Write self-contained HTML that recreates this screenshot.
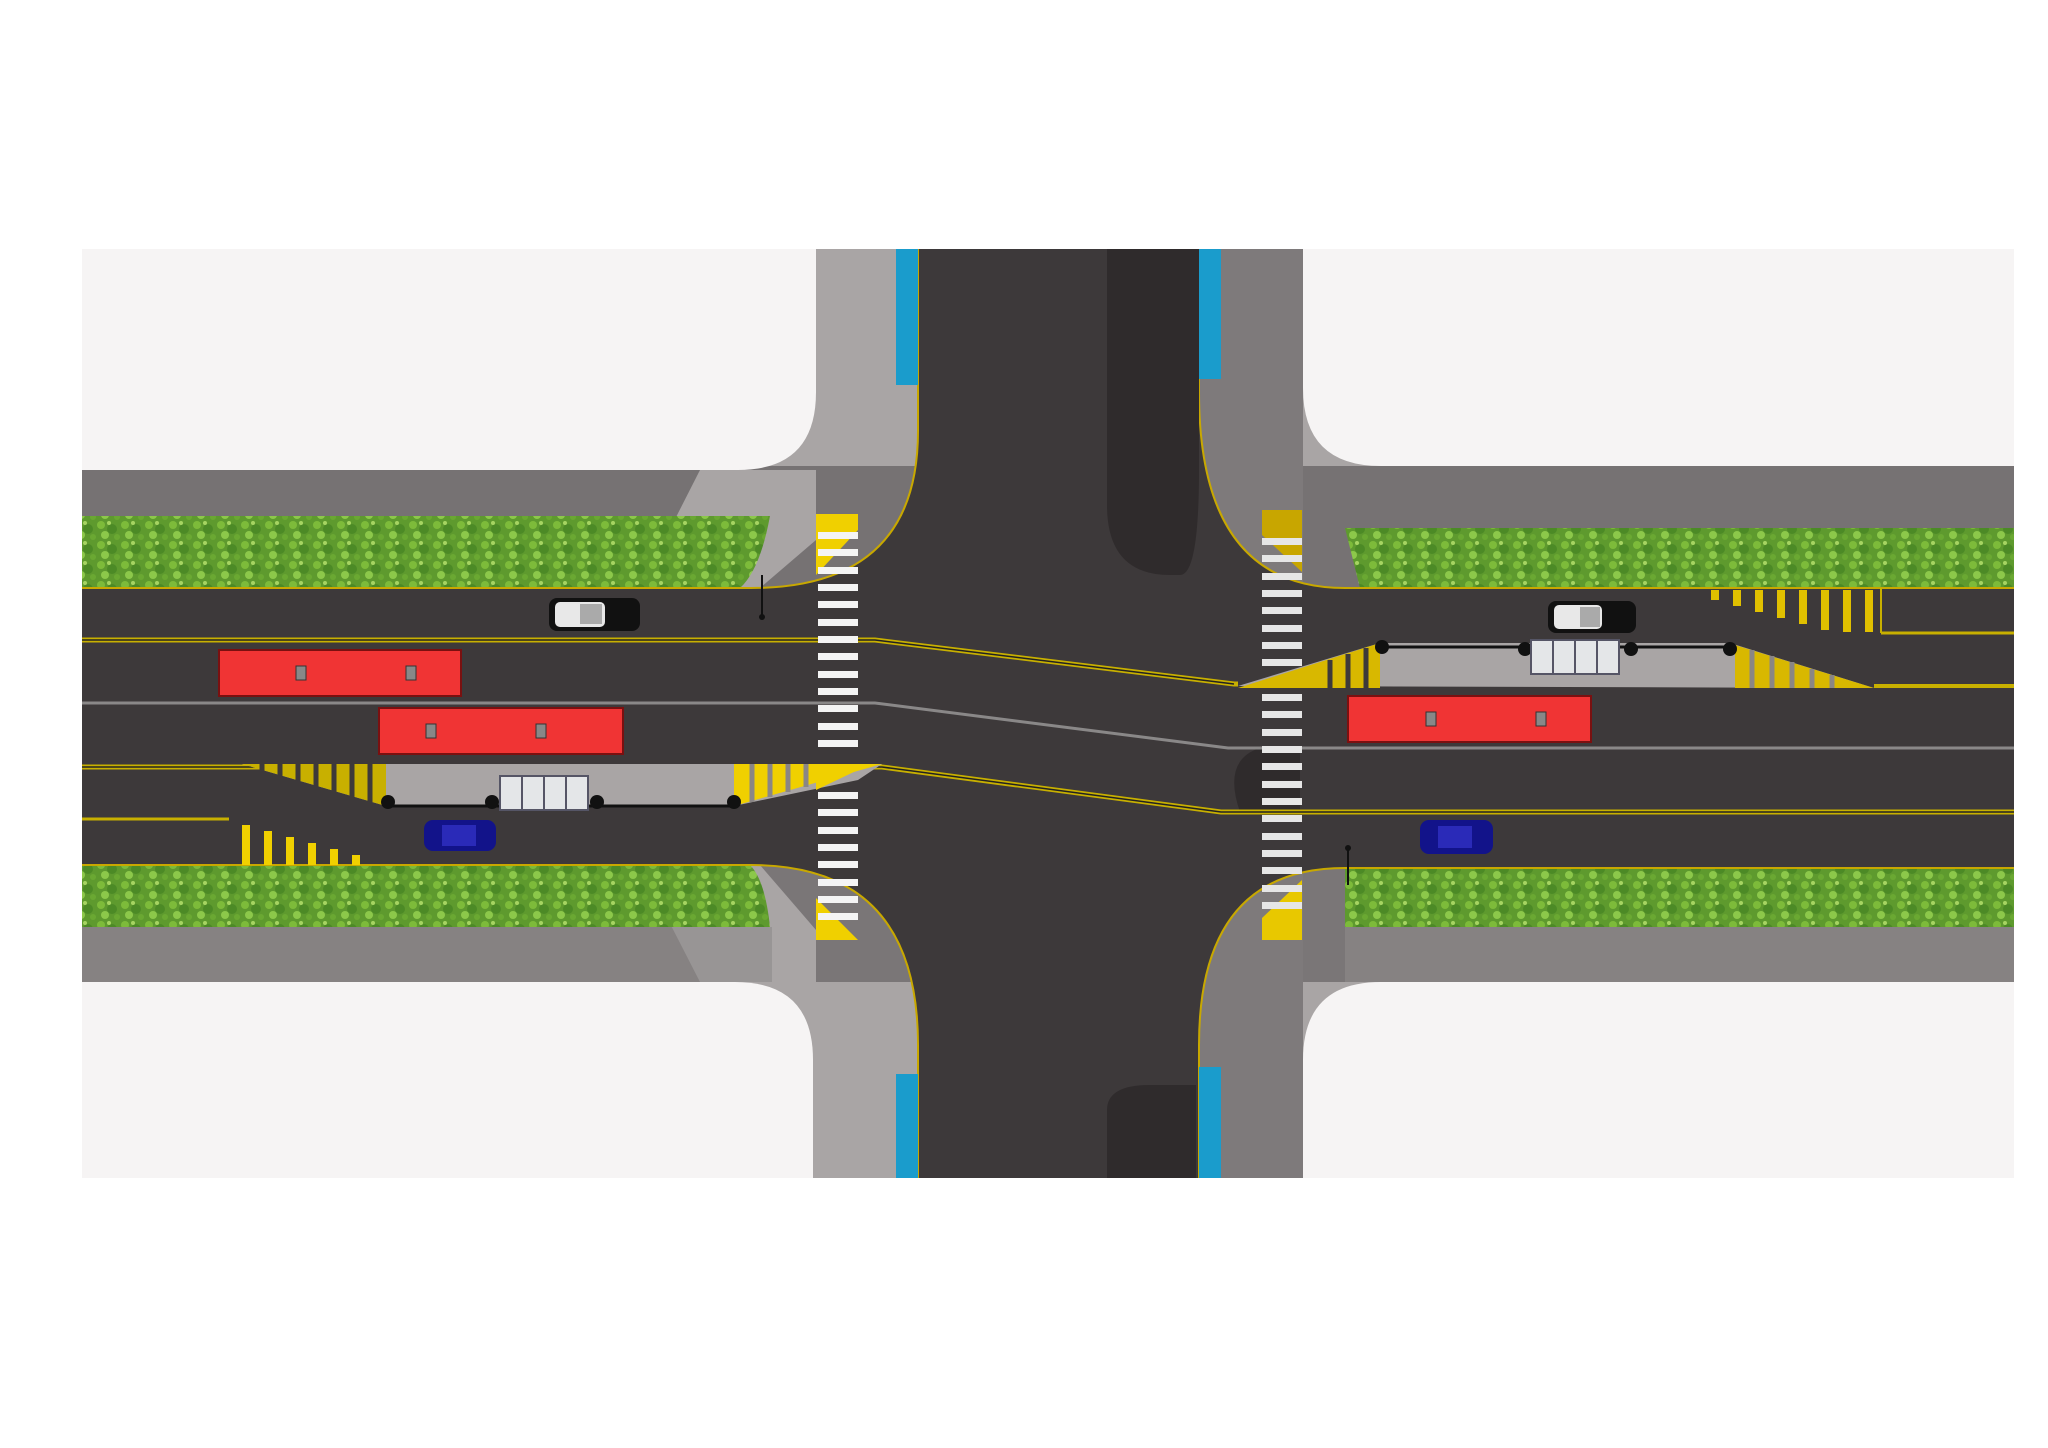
<!DOCTYPE html>
<html><head><meta charset="utf-8"><style>html,body{margin:0;padding:0;background:#fff}svg{display:block}</style></head>
<body>
<svg width="2048" height="1448" viewBox="0 0 2048 1448" xmlns="http://www.w3.org/2000/svg">
<defs>
<pattern id="grass" width="24" height="20" patternUnits="userSpaceOnUse">
<rect width="24" height="20" fill="#5e9a2e"/>
<circle cx="5" cy="5" r="4" fill="#7dbb3a"/>
<circle cx="16" cy="9" r="5" fill="#4c8a26"/>
<circle cx="9" cy="15" r="4" fill="#8cc84a"/>
<circle cx="21" cy="17" r="3" fill="#6aa832"/>
<circle cx="13" cy="3" r="2" fill="#a6d462"/>
</pattern>
</defs>
<rect width="2048" height="1448" fill="#fff"/>
<!-- base sidewalk -->
<rect x="82" y="249" width="1932" height="929" fill="#a9a5a5"/>
<rect x="82" y="466" width="1932" height="122" fill="#767273"/>
<rect x="82" y="865" width="1932" height="117" fill="#7a7677"/>
<rect x="1199" y="249" width="104" height="929" fill="#7e7a7b"/>
<polygon points="700,470 816,470 816,540 760,588 640,588" fill="#a9a5a5"/>
<polygon points="640,865 760,865 816,930 816,982 700,982" fill="#a9a5a5"/>
<!-- white blocks -->
<path d="M82,249 H816 V392 Q816,470 738,470 H82 Z" fill="#f6f4f4"/>
<path d="M1303,249 H2014 V466 H1381 Q1303,466 1303,388 Z" fill="#f6f4f4"/>
<path d="M82,982 H735 Q813,982 813,1060 V1178 H82 Z" fill="#f6f4f4"/>
<path d="M1381,982 H2014 V1178 H1303 V1060 Q1303,982 1381,982 Z" fill="#f6f4f4"/>
<!-- asphalt -->
<path d="M918,249 L918,431 Q918,588 751,588 L82,588 L82,865 L751,865 Q918,865 918,1045 L918,1178 L1199,1178 L1199,1045 Q1199,868 1345,868 L2014,868 L2014,588 L1345,588 Q1199,588 1199,392 L1199,249 Z" fill="#3d393a"/>
<g fill="none" stroke="#c8a800" stroke-width="2">
<path d="M918,249 L918,431 Q918,588 751,588"/>
<path d="M751,865 Q918,865 918,1045 L918,1178"/>
<path d="M1199,1178 L1199,1045 Q1199,868 1345,868"/>
<path d="M1345,588 Q1199,588 1199,392 L1199,249"/>
</g>
<!-- dark shadows -->
<path d="M1107,249 H1199 V470 Q1199,575 1180,575 H1170 Q1107,575 1107,505 Z" fill="#2f2b2c"/>
<path d="M1107,1178 V1110 Q1107,1085 1150,1085 H1196 V1178 Z" fill="#2f2b2c"/>
<path d="M1240,812 Q1222,760 1260,748 H1300 V812 Z" fill="#2f2b2c"/>
<!-- blue strips -->
<rect x="896" y="249" width="22" height="136" fill="#1a9ccc"/>
<rect x="896" y="1074" width="22" height="104" fill="#1a9ccc"/>
<rect x="1199" y="249" width="22" height="130" fill="#1a9ccc"/>
<rect x="1199" y="1067" width="22" height="111" fill="#1a9ccc"/>
<!-- greenery -->
<path d="M82,516 H770 Q760,570 740,588 H82 Z" fill="url(#grass)"/>
<path d="M1345,528 H2014 V588 H1360 Z" fill="url(#grass)"/>
<path d="M82,865 H750 Q765,880 770,927 H82 Z" fill="url(#grass)"/>
<path d="M1345,868 H2014 V927 H1345 Z" fill="url(#grass)"/>
<rect x="82" y="927" width="690" height="55" fill="#8e8a8b" opacity="0.6"/>
<rect x="1345" y="927" width="669" height="55" fill="#8e8a8b" opacity="0.6"/>
<line x1="82" y1="588" x2="751" y2="588" stroke="#c8a800" stroke-width="2"/>
<line x1="1345" y1="588" x2="2014" y2="588" stroke="#c8a800" stroke-width="2"/>
<line x1="82" y1="865" x2="751" y2="865" stroke="#c8a800" stroke-width="2"/>
<line x1="1345" y1="868" x2="2014" y2="868" stroke="#c8a800" stroke-width="2"/>
<!-- lane lines -->
<polyline points="82,640 875,640 1234,684 1238,684" fill="none" stroke="#c8b000" stroke-width="5"/>
<polyline points="82,640 875,640 1234,684" fill="none" stroke="#222" stroke-width="1.5"/>
<polyline points="82,703 875,703 1228,748 2014,748" fill="none" stroke="#8a8888" stroke-width="3"/>
<polyline points="82,767 882,767 1221,812 2014,812" fill="none" stroke="#c8b000" stroke-width="5"/>
<polyline points="82,767 882,767 1221,812 2014,812" fill="none" stroke="#222" stroke-width="1.5"/>
<polyline points="82,819 229,819" fill="none" stroke="#c8b000" stroke-width="3"/>
<polyline points="1881,633 2014,633" fill="none" stroke="#c8b000" stroke-width="3"/>
<line x1="1881" y1="588" x2="1881" y2="633" stroke="#c8b000" stroke-width="2"/>
<polyline points="1874,686 2014,686" fill="none" stroke="#c8b000" stroke-width="4"/>
<!-- left platform -->
<polygon points="242,764 882,764 858,780 734,806 386,806" fill="#a9a5a5"/>
<polygon points="242,764 386,764 386,806" fill="#c8b000"/>
<g stroke="#3d393a" stroke-width="5">
<line x1="262" y1="764" x2="262" y2="780"/><line x1="280" y1="764" x2="280" y2="786"/><line x1="298" y1="764" x2="298" y2="792"/><line x1="316" y1="764" x2="316" y2="797"/><line x1="334" y1="764" x2="334" y2="801"/><line x1="352" y1="764" x2="352" y2="805"/><line x1="370" y1="764" x2="370" y2="806"/>
</g>
<polygon points="734,764 882,764 734,806" fill="#f0d000"/>
<g stroke="#8a8686" stroke-width="5">
<line x1="752" y1="764" x2="752" y2="802"/><line x1="770" y1="764" x2="770" y2="797"/><line x1="788" y1="764" x2="788" y2="792"/><line x1="806" y1="764" x2="806" y2="787"/>
</g>
<line x1="386" y1="806" x2="734" y2="806" stroke="#111" stroke-width="3"/>
<circle cx="388" cy="802" r="7" fill="#111"/><circle cx="492" cy="802" r="7" fill="#111"/><circle cx="597" cy="802" r="7" fill="#111"/><circle cx="734" cy="802" r="7" fill="#111"/>
<g fill="#f0d000"><polygon points="242,825 250,825 250,865 242,865"/><polygon points="264,831 272,831 272,865 264,865"/><polygon points="286,837 294,837 294,865 286,865"/><polygon points="308,843 316,843 316,865 308,865"/><polygon points="330,849 338,849 338,865 330,865"/><polygon points="352,855 360,855 360,865 352,865"/></g>
<!-- right platform -->
<polygon points="1238,686 1380,643 1730,643 1874,688" fill="#a9a5a5"/>
<polygon points="1238,688 1380,643 1380,688" fill="#d8b800"/>
<g stroke="#3d393a" stroke-width="5">
<line x1="1330" y1="660" x2="1330" y2="688"/><line x1="1348" y1="654" x2="1348" y2="688"/><line x1="1366" y1="648" x2="1366" y2="688"/>
</g>
<polygon points="1735,645 1874,688 1735,688" fill="#d8b800"/>
<g stroke="#8a8686" stroke-width="5">
<line x1="1752" y1="650" x2="1752" y2="688"/><line x1="1772" y1="656" x2="1772" y2="688"/><line x1="1792" y1="662" x2="1792" y2="688"/><line x1="1812" y1="669" x2="1812" y2="688"/><line x1="1832" y1="675" x2="1832" y2="688"/>
</g>
<line x1="1380" y1="647" x2="1730" y2="647" stroke="#111" stroke-width="3"/>
<circle cx="1382" cy="647" r="7" fill="#111"/><circle cx="1525" cy="649" r="7" fill="#111"/><circle cx="1631" cy="649" r="7" fill="#111"/><circle cx="1730" cy="649" r="7" fill="#111"/>
<g fill="#e0c000"><polygon points="1711,590 1719,590 1719,600 1711,600"/><polygon points="1733,590 1741,590 1741,606 1733,606"/><polygon points="1755,590 1763,590 1763,612 1755,612"/><polygon points="1777,590 1785,590 1785,618 1777,618"/><polygon points="1799,590 1807,590 1807,624 1799,624"/><polygon points="1821,590 1829,590 1829,630 1821,630"/><polygon points="1843,590 1851,590 1851,632 1843,632"/><polygon points="1865,590 1873,590 1873,632 1865,632"/></g>
<!-- crosswalk left -->
<polygon points="816,514 858,514 858,530 816,575" fill="#f0d000"/>
<polygon points="816,898 858,940 816,940" fill="#f0d000"/>
<polygon points="816,764 858,764 858,770 816,790" fill="#f0d000"/>
<g fill="#f4f4f4">
<rect x="818" y="532" width="40" height="7"/><rect x="818" y="549" width="40" height="7"/><rect x="818" y="567" width="40" height="7"/><rect x="818" y="584" width="40" height="7"/><rect x="818" y="601" width="40" height="7"/><rect x="818" y="619" width="40" height="7"/><rect x="818" y="636" width="40" height="7"/><rect x="818" y="653" width="40" height="7"/><rect x="818" y="671" width="40" height="7"/><rect x="818" y="688" width="40" height="7"/><rect x="818" y="705" width="40" height="7"/><rect x="818" y="723" width="40" height="7"/><rect x="818" y="740" width="40" height="7"/><rect x="818" y="792" width="40" height="7"/><rect x="818" y="809" width="40" height="7"/><rect x="818" y="827" width="40" height="7"/><rect x="818" y="844" width="40" height="7"/><rect x="818" y="861" width="40" height="7"/><rect x="818" y="879" width="40" height="7"/><rect x="818" y="896" width="40" height="7"/><rect x="818" y="913" width="40" height="7"/>
</g>
<!-- crosswalk right -->
<polygon points="1262,510 1302,510 1302,572 1262,535" fill="#c8a600"/>
<polygon points="1262,686 1302,672 1302,688 1262,688" fill="#d8b800"/>
<polygon points="1262,940 1262,918 1302,880 1302,940" fill="#e8c800"/>
<g fill="#e6e6e6">
<rect x="1262" y="538" width="40" height="7"/><rect x="1262" y="555" width="40" height="7"/><rect x="1262" y="573" width="40" height="7"/><rect x="1262" y="590" width="40" height="7"/><rect x="1262" y="607" width="40" height="7"/><rect x="1262" y="625" width="40" height="7"/><rect x="1262" y="642" width="40" height="7"/><rect x="1262" y="659" width="40" height="7"/><rect x="1262" y="694" width="40" height="7"/><rect x="1262" y="711" width="40" height="7"/><rect x="1262" y="729" width="40" height="7"/><rect x="1262" y="746" width="40" height="7"/><rect x="1262" y="763" width="40" height="7"/><rect x="1262" y="781" width="40" height="7"/><rect x="1262" y="798" width="40" height="7"/><rect x="1262" y="815" width="40" height="7"/><rect x="1262" y="833" width="40" height="7"/><rect x="1262" y="850" width="40" height="7"/><rect x="1262" y="867" width="40" height="7"/><rect x="1262" y="885" width="40" height="7"/><rect x="1262" y="902" width="40" height="7"/>
</g>
<!-- buses -->
<g stroke="#7a1010" stroke-width="2">
<rect x="219" y="650" width="242" height="46" fill="#f03434"/>
<rect x="379" y="708" width="244" height="46" fill="#f03434"/>
<rect x="1348" y="696" width="243" height="46" fill="#f03434"/>
</g>
<g fill="#888" stroke="#333" stroke-width="1">
<rect x="296" y="666" width="10" height="14"/><rect x="406" y="666" width="10" height="14"/>
<rect x="426" y="724" width="10" height="14"/><rect x="536" y="724" width="10" height="14"/>
<rect x="1426" y="712" width="10" height="14"/><rect x="1536" y="712" width="10" height="14"/>
</g>
<!-- cars -->
<rect x="549" y="598" width="91" height="33" rx="8" fill="#111"/><rect x="555" y="602" width="50" height="25" rx="5" fill="#e8e8e8"/><rect x="580" y="604" width="22" height="20" fill="#aaa"/>
<rect x="1548" y="601" width="88" height="32" rx="8" fill="#111"/><rect x="1554" y="605" width="48" height="24" rx="5" fill="#e8e8e8"/><rect x="1580" y="607" width="20" height="20" fill="#aaa"/>
<rect x="424" y="820" width="72" height="31" rx="9" fill="#12138a"/><rect x="442" y="825" width="34" height="21" fill="#2a2ab8"/>
<rect x="1420" y="820" width="73" height="34" rx="9" fill="#12138a"/><rect x="1438" y="826" width="34" height="22" fill="#2a2ab8"/>
<!-- shelters -->
<g fill="#e4e6e8" stroke="#556" stroke-width="2">
<rect x="500" y="776" width="22" height="34"/><rect x="522" y="776" width="22" height="34"/><rect x="544" y="776" width="22" height="34"/><rect x="566" y="776" width="22" height="34"/>
<rect x="1531" y="640" width="22" height="34"/><rect x="1553" y="640" width="22" height="34"/><rect x="1575" y="640" width="22" height="34"/><rect x="1597" y="640" width="22" height="34"/>
</g>
<line x1="762" y1="575" x2="762" y2="617" stroke="#111" stroke-width="2"/><circle cx="762" cy="617" r="3" fill="#111"/>
<line x1="1348" y1="848" x2="1348" y2="885" stroke="#111" stroke-width="2"/><circle cx="1348" cy="848" r="3" fill="#111"/>
</svg>
</body></html>
